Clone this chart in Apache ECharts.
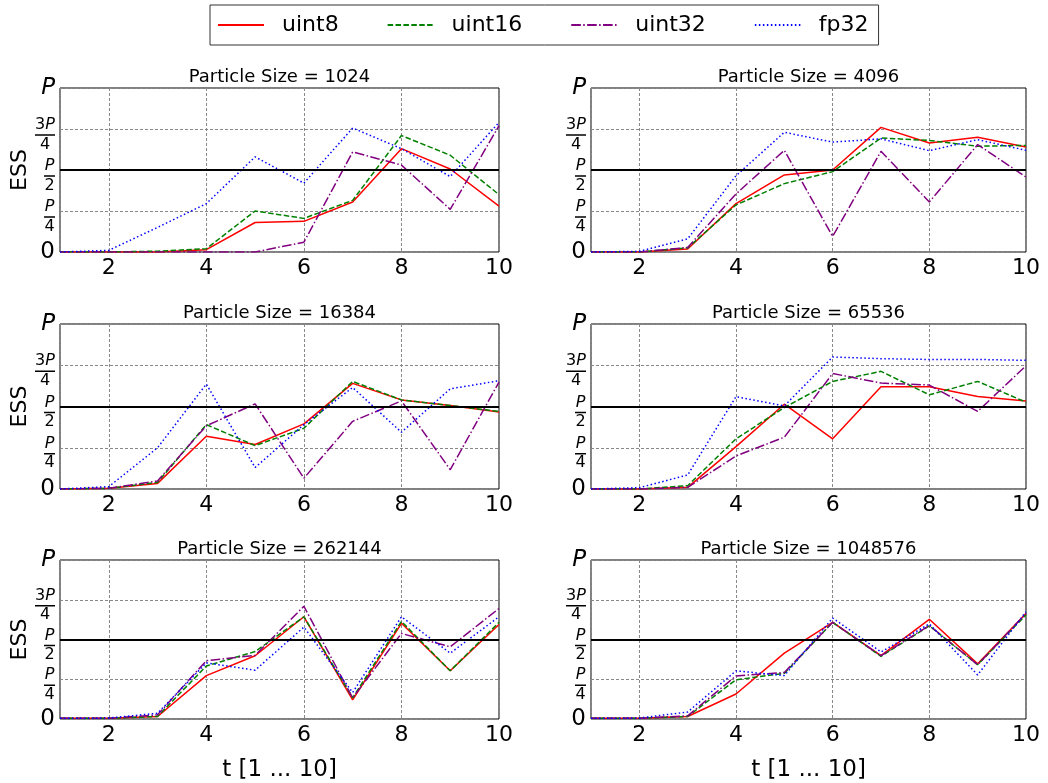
<!DOCTYPE html>
<html>
<head>
<meta charset="utf-8">
<script src="https://cdn.jsdelivr.net/npm/echarts@6/dist/echarts.min.js"></script>
<style>
html,body{margin:0;padding:0;background:#fff;}
#chart{width:1048px;height:783px;}
</style>
</head>
<body>
<div id="chart"></div>
<script>
// time steps
const t = [1, 2, 3, 4, 5, 6, 7, 8, 9, 10];
const particleSizes = [1024, 4096, 16384, 65536, 262144, 1048576];
const seriesNames = ['uint8', 'uint16', 'uint32', 'fp32'];
const yTickLabels = ['0', 'P/4', 'P/2', '3P/4', 'P'];
const xTickLabels = ['2', '4', '6', '8', '10'];
const thresholdESS = 0.5; // P/2

// ESS values as fraction of P
const uint8_1024  = [0, 0, 0, 0.014, 0.18, 0.187, 0.305, 0.63, 0.506, 0.28];
const uint16_1024 = [0, 0, 0.005, 0.02, 0.25, 0.205, 0.315, 0.71, 0.59, 0.35];
const uint32_1024 = [0, 0, 0, 0, 0, 0.06, 0.61, 0.53, 0.26, 0.77];
const fp32_1024   = [0, 0.01, 0.15, 0.295, 0.58, 0.42, 0.756, 0.63, 0.46, 0.79];

const uint8_4096  = [0, 0, 0.018, 0.295, 0.47, 0.50, 0.76, 0.665, 0.70, 0.64];
const uint16_4096 = [0, 0, 0.025, 0.287, 0.417, 0.49, 0.695, 0.68, 0.645, 0.65];
const uint32_4096 = [0, 0, 0.028, 0.354, 0.62, 0.095, 0.614, 0.305, 0.655, 0.457];
const fp32_4096   = [0, 0.004, 0.08, 0.465, 0.73, 0.67, 0.69, 0.618, 0.685, 0.62];

const uint8_16384  = [0, 0.004, 0.034, 0.32, 0.27, 0.395, 0.64, 0.54, 0.506, 0.466];
const uint16_16384 = [0, 0.004, 0.04, 0.39, 0.263, 0.368, 0.652, 0.54, 0.506, 0.47];
const uint32_16384 = [0, 0.004, 0.049, 0.383, 0.516, 0.065, 0.41, 0.534, 0.117, 0.648];
const fp32_16384   = [0, 0.014, 0.25, 0.636, 0.13, 0.39, 0.615, 0.344, 0.607, 0.656];

const uint8_65536  = [0, 0, 0.01, 0.257, 0.514, 0.304, 0.62, 0.62, 0.56, 0.534];
const uint16_65536 = [0, 0, 0.02, 0.304, 0.494, 0.652, 0.713, 0.571, 0.652, 0.526];
const uint32_65536 = [0, 0, 0.01, 0.2, 0.314, 0.70, 0.642, 0.63, 0.47, 0.747];
const fp32_65536   = [0, 0.008, 0.085, 0.56, 0.504, 0.80, 0.79, 0.785, 0.785, 0.78];

const uint8_262144  = [0.004, 0.004, 0.016, 0.273, 0.398, 0.643, 0.12, 0.602, 0.303, 0.594];
const uint16_262144 = [0.004, 0.004, 0.016, 0.333, 0.424, 0.643, 0.133, 0.614, 0.303, 0.608];
const uint32_262144 = [0.004, 0.004, 0.026, 0.367, 0.40, 0.709, 0.133, 0.538, 0.454, 0.695];
const fp32_262144   = [0.004, 0.006, 0.036, 0.353, 0.307, 0.578, 0.167, 0.643, 0.414, 0.643];

const uint8_1048576  = [0.004, 0.004, 0.016, 0.157, 0.414, 0.608, 0.398, 0.627, 0.347, 0.663];
const uint16_1048576 = [0.004, 0.004, 0.016, 0.247, 0.287, 0.608, 0.394, 0.586, 0.341, 0.655];
const uint32_1048576 = [0.004, 0.004, 0.02, 0.271, 0.293, 0.608, 0.398, 0.588, 0.341, 0.663];
const fp32_1048576   = [0.004, 0.006, 0.044, 0.303, 0.273, 0.635, 0.422, 0.598, 0.277, 0.675];

const panelData = [
  [uint8_1024, uint16_1024, uint32_1024, fp32_1024],
  [uint8_4096, uint16_4096, uint32_4096, fp32_4096],
  [uint8_16384, uint16_16384, uint32_16384, fp32_16384],
  [uint8_65536, uint16_65536, uint32_65536, fp32_65536],
  [uint8_262144, uint16_262144, uint32_262144, fp32_262144],
  [uint8_1048576, uint16_1048576, uint32_1048576, fp32_1048576]
];

const FONT = 'DejaVu Sans';
const styles = [
  {color: '#ff0000', type: 'solid'},
  {color: '#008000', type: [5.5, 2.4]},
  {color: '#800080', type: [9.6, 2.4, 1.5, 2.4]},
  {color: '#0000ff', type: [1.5, 2.5]}
];

const gridPos = [
  {left: 60, top: 88, width: 439, height: 164},
  {left: 591, top: 88, width: 435, height: 164},
  {left: 60, top: 324, width: 439, height: 165},
  {left: 591, top: 324, width: 435, height: 165},
  {left: 60, top: 560, width: 439, height: 166},
  {left: 591, top: 560, width: 435, height: 166}
];

function yFormatter(v) {
  const idx = Math.round(v * 4);
  const s = yTickLabels[idx];
  if (s === 'P') return '{P|P}';
  if (s === '0') return '{z|0}';
  const parts = s.split('/');
  const num = parts[0];
  const den = parts[1];
  if (num.length > 1) {
    return '{n3|' + num.slice(0, -1) + '}{n3i|P}\n{b3|}\n{d3|' + den + '}';
  }
  return '{n1i|P}\n{b1|}\n{d1|' + den + '}';
}
function xFormatter(v) {
  const s = String(v);
  return xTickLabels.indexOf(s) >= 0 ? s : '';
}

const richY = {
  P: {fontFamily: FONT, fontSize: 23, fontStyle: 'italic', color: '#000'},
  z: {fontFamily: FONT, fontSize: 23, color: '#000'},
  n3: {fontFamily: FONT, fontSize: 16, color: '#000', lineHeight: 27, verticalAlign: 'bottom', align: 'center'},
  n3i: {fontFamily: FONT, fontSize: 16, fontStyle: 'italic', color: '#000', lineHeight: 27, verticalAlign: 'bottom', align: 'center'},
  b3: {width: 20, height: 1.5, lineHeight: 4, fontSize: 2, backgroundColor: '#000', align: 'center'},
  d3: {fontFamily: FONT, fontSize: 16, color: '#000', lineHeight: 15, align: 'center'},
  n1i: {fontFamily: FONT, fontSize: 16, fontStyle: 'italic', color: '#000', lineHeight: 27, verticalAlign: 'bottom', align: 'center'},
  b1: {width: 11, height: 1.5, lineHeight: 4, fontSize: 2, backgroundColor: '#000', align: 'center'},
  d1: {fontFamily: FONT, fontSize: 16, color: '#000', lineHeight: 15, align: 'center'}
};

const grids = [], xAxes = [], yAxes = [], series = [], titles = [];
particleSizes.forEach(function (size, i) {
  const g = gridPos[i];
  const isLeft = i % 2 === 0;
  const isBottom = i >= 4;
  grids.push(Object.assign({show: true, borderColor: '#000', borderWidth: 1, backgroundColor: 'transparent', containLabel: false}, g));
  titles.push({
    text: 'Particle Size = ' + size,
    left: g.left + g.width / 2,
    top: g.top - 20,
    textAlign: 'center',
    padding: 0,
    textStyle: {fontFamily: FONT, fontSize: 18, fontWeight: 'normal', color: '#000'}
  });
  xAxes.push({
    type: 'value', gridIndex: i, min: 1, max: 10, splitNumber: 5,
    axisLine: {show: false}, axisTick: {show: false},
    axisLabel: {fontFamily: FONT, fontSize: 22, color: '#000', margin: 5, formatter: xFormatter, showMinLabel: false},
    splitLine: {show: true, lineStyle: {color: '#888', type: [3, 2], width: 1}},
    name: isBottom ? 't [1 ... 10]' : '',
    nameLocation: 'middle', nameGap: 40,
    nameTextStyle: {fontFamily: FONT, fontSize: 23, color: '#000'}
  });
  yAxes.push({
    type: 'value', gridIndex: i, min: 0, max: 1, interval: 0.25,
    axisLine: {show: false}, axisTick: {show: false},
    axisLabel: {margin: 5, formatter: yFormatter, rich: richY},
    splitLine: {show: true, lineStyle: {color: '#888', type: [3, 2], width: 1}},
    name: isLeft ? 'ESS' : '',
    nameLocation: 'middle', nameGap: 29, nameRotate: 90,
    nameTextStyle: {fontFamily: FONT, fontSize: 22, color: '#000'}
  });
  panelData[i].forEach(function (vals, k) {
    const s = {
      name: seriesNames[k], type: 'line', xAxisIndex: i, yAxisIndex: i,
      data: t.map(function (x, j) { return [x, vals[j]]; }),
      symbol: 'none', showSymbol: false,
      lineStyle: {color: styles[k].color, type: styles[k].type, width: 1.5},
      itemStyle: {color: styles[k].color},
      z: 3, animation: false, silent: true
    };
    if (k === 0) {
      s.markLine = {
        silent: true, symbol: 'none', label: {show: false}, animation: false,
        lineStyle: {color: '#000', type: 'solid', width: 2},
        data: [{yAxis: thresholdESS}]
      };
    }
    series.push(s);
  });
});

const chart = echarts.init(document.getElementById('chart'), null, {renderer: 'canvas'});
chart.setOption({
  backgroundColor: '#fff',
  animation: false,
  title: titles,
  legend: {
    data: seriesNames,
    left: 210, top: 5,
    padding: [9, 10, 9, 7],
    borderColor: '#333', borderWidth: 1,
    itemWidth: 46, itemHeight: 14, itemGap: 48,
    itemStyle: {opacity: 0},
    textStyle: {fontFamily: FONT, fontSize: 22, color: '#000', padding: [0, 0, 0, 13]},
    selectedMode: false
  },
  grid: grids,
  xAxis: xAxes,
  yAxis: yAxes,
  series: series
});
</script>
</body>
</html>
